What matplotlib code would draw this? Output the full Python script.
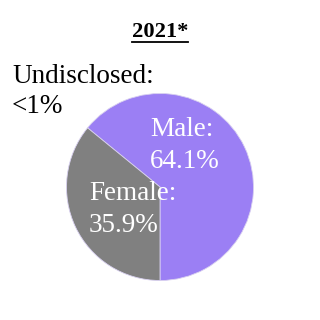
import matplotlib
matplotlib.use("Agg")
from matplotlib import pyplot as plt
from matplotlib.lines import Line2D

plt.rcParams['font.family'] = ['Liberation Serif', 'DejaVu Serif']

title = '2021*'
labels = ['Male', 'Female']
shares = [64.1, 35.9]
colors = ['#9b7ff4', '#808080']
undisclosed = ['Undisclosed:', '<1%']

W = 320.0


def px(x, y):
    # pixel position (from top-left) -> figure fraction
    return x / W, 1 - y / W


fig = plt.figure(figsize=(3.2, 3.2), dpi=100)
cx, cy, r = 160, 187, 93.5
ax = fig.add_axes([(cx - r) / W, 1 - (cy + r) / W, 2 * r / W, 2 * r / W])

ax.pie(shares, colors=colors, startangle=-90, counterclock=True,
       wedgeprops=dict(linewidth=0.6, edgecolor='#d8d0f0'))
ax.set_xlim(-1, 1)
ax.set_ylim(-1, 1)
ax.set_aspect('equal')


def two_lines(x, y, lines, color, gap=31):
    for i, s in enumerate(lines):
        fig.text(*px(x, y + i * gap), s, color=color, fontsize=19.5,
                 ha='left', va='baseline')


two_lines(150, 136, ['%s:' % labels[0], '%.1f%%' % shares[0]], 'white', 32)
two_lines(89, 200, ['%s:' % labels[1], '%.1f%%' % shares[1]], 'white', 32)
two_lines(12, 83, undisclosed, 'black', 30)

t = fig.text(*px(160, 37), title, fontsize=16.2, fontweight='bold',
             ha='center', va='baseline')

# underline the title
fig.canvas.draw()
bb = t.get_window_extent().transformed(fig.transFigure.inverted())
y_line = 1 - 42 / W
fig.add_artist(Line2D([bb.x0, bb.x1], [y_line, y_line], color='black',
                      linewidth=1.3, transform=fig.transFigure))

fig.savefig('out.png', dpi=100, facecolor='white')
